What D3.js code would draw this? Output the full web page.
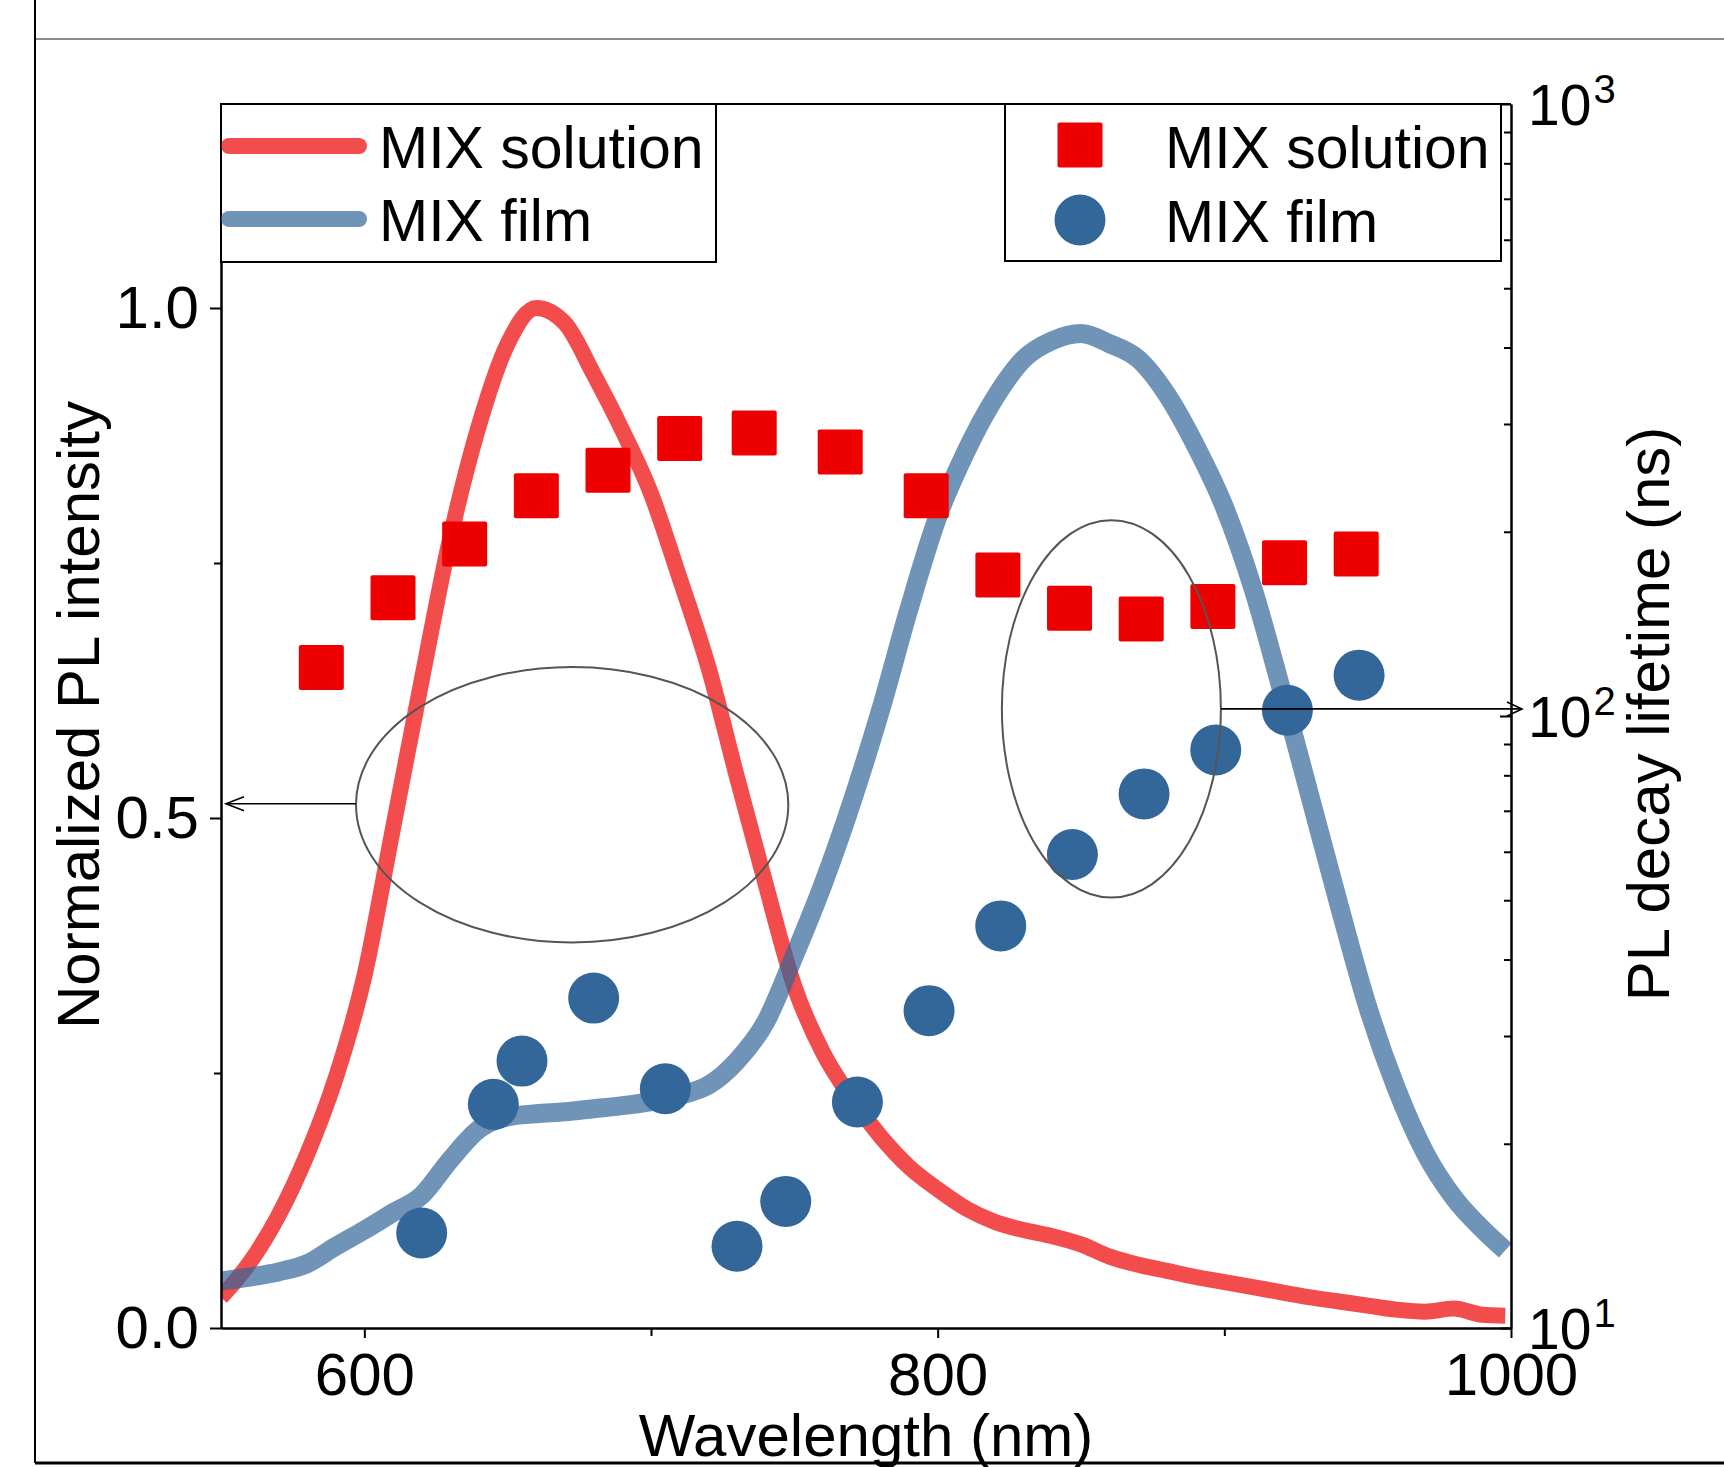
<!DOCTYPE html>
<html>
<head>
<meta charset="utf-8">
<script src="https://cdn.jsdelivr.net/npm/d3@7"></script>
<style>
  body { margin: 0; background: #fff; }
  svg text { font-family: Arial, "Liberation Sans", sans-serif; fill: #000; }
</style>
</head>
<body>
<div id="chart"></div>
<script>
// PL spectra, every 10 nm
var plWavelength = [550, 560, 570, 580, 590, 600, 610, 620, 630, 640, 650, 660, 670, 680, 690, 700, 710, 720, 730, 740,
                    750, 760, 770, 780, 790, 800, 810, 820, 830, 840, 850, 860, 870, 880, 890, 900, 910, 920, 930, 940,
                    950, 960, 970, 980, 990, 998];
var plSolution = [0.030, 0.064, 0.110, 0.170, 0.245, 0.345, 0.490, 0.635, 0.775, 0.885, 0.965, 1.000, 0.985, 0.935, 0.880, 0.818, 0.735, 0.648, 0.540, 0.435,
                  0.335, 0.270, 0.225, 0.188, 0.158, 0.136, 0.117, 0.104, 0.096, 0.090, 0.082, 0.070, 0.062, 0.056, 0.050, 0.045, 0.040, 0.035, 0.030, 0.026,
                  0.022, 0.018, 0.016, 0.019, 0.013, 0.012];
var plFilm = [0.046, 0.050, 0.055, 0.063, 0.080, 0.096, 0.113, 0.130, 0.165, 0.195, 0.207, 0.210, 0.212, 0.215, 0.218, 0.222, 0.228, 0.238, 0.262, 0.300,
              0.365, 0.435, 0.515, 0.605, 0.705, 0.795, 0.860, 0.912, 0.950, 0.968, 0.975, 0.965, 0.950, 0.915, 0.865, 0.805, 0.725, 0.625, 0.520, 0.415,
              0.315, 0.235, 0.172, 0.128, 0.097, 0.076];

// PL decay lifetime (ns) against emission wavelength
var solutionWl = [585, 610, 635, 660, 685, 710, 736, 766, 796, 821, 846, 871, 896, 921, 946];
var solutionTau = [120, 156, 191, 229, 252, 284, 290, 270, 229, 170, 150, 144, 151, 178, 184];
var filmWl = [620, 645, 655, 680, 705, 730, 747, 772, 797, 822, 847, 872, 897, 922, 947];
var filmTau = [14.3, 23.2, 27.3, 34.6, 24.6, 13.6, 16.1, 23.4, 33.0, 45.4, 59.4, 74.6, 88.0, 102.2, 116.6];

var xTicks = [600, 800, 1000];
var xMinorTicks = [700, 900];
var yTicks = [0, 0.5, 1.0];
var yMinorTicks = [0.25, 0.75];
var tauTicks = [10, 100, 1000];
var tauMinorTicks = [20, 30, 40, 50, 60, 70, 80, 90, 200, 300, 400, 500, 600, 700, 800, 900];

var width = 1724, height = 1467;
var plotL = 221, plotR = 1511, plotT = 104, plotB = 1328;

var lineRed = "#ee0000", lineBlue = "#336699";

var x = d3.scaleLinear().domain([550, 1000]).range([plotL, plotR]);
var y = d3.scaleLinear().domain([0, 1.2]).range([plotB, plotT]);
var yTau = d3.scaleLog().domain([10, 1000]).range([plotB, plotT]);

var svg = d3.select("#chart").append("svg")
    .attr("width", width)
    .attr("height", height);

svg.append("rect").attr("width", width).attr("height", height).attr("fill", "#fff");

svg.append("clipPath").attr("id", "plot")
  .append("rect")
    .attr("x", plotL).attr("y", plotT)
    .attr("width", plotR - plotL).attr("height", plotB - plotT);

// spectra
var spectrum = function (vals) {
  return d3.line()
      .x(function (d, i) { return x(plWavelength[i]); })
      .y(function (d) { return y(d); })
      .curve(d3.curveMonotoneX)(vals);
};

var curves = svg.append("g").attr("clip-path", "url(#plot)");
curves.append("path")
    .attr("d", spectrum(plSolution))
    .attr("fill", "none")
    .attr("stroke", lineRed)
    .attr("stroke-opacity", 0.7)
    .attr("stroke-width", 16)
    .attr("stroke-linejoin", "round");
curves.append("path")
    .attr("d", spectrum(plFilm))
    .attr("fill", "none")
    .attr("stroke", lineBlue)
    .attr("stroke-opacity", 0.7)
    .attr("stroke-width", 19)
    .attr("stroke-linejoin", "round");

// lifetimes
var sq = 45;
svg.append("g").selectAll("rect")
    .data(solutionWl)
    .enter().append("rect")
    .attr("x", function (d) { return x(d) - sq / 2; })
    .attr("y", function (d, i) { return yTau(solutionTau[i]) - sq / 2; })
    .attr("width", sq).attr("height", sq)
    .attr("rx", 2)
    .attr("fill", lineRed);

svg.append("g").selectAll("circle")
    .data(filmWl)
    .enter().append("circle")
    .attr("cx", function (d) { return x(d); })
    .attr("cy", function (d, i) { return yTau(filmTau[i]); })
    .attr("r", 25.5)
    .attr("fill", lineBlue);

// ellipses with arrows pointing at their axes
var ell = svg.append("g").attr("fill", "none").attr("stroke", "#555").attr("stroke-width", 2);
var e1 = { cx: x(672.5), cy: y(0.513), rx: x(672.5) - x(597.1), ry: y(0) - y(0.135) };
var e2 = { cx: x(860.6), cy: y(0.607), rx: x(860.6) - x(822.4), ry: y(0) - y(0.185) };
[e1, e2].forEach(function (e) {
  ell.append("ellipse").attr("cx", e.cx).attr("cy", e.cy).attr("rx", e.rx).attr("ry", e.ry);
});

var arr = svg.append("g").attr("fill", "none").attr("stroke", "#000").attr("stroke-width", 1.6);
var ay1 = y(0.514), tip1 = plotL + 5;
arr.append("line").attr("x1", e1.cx - e1.rx).attr("x2", tip1).attr("y1", ay1).attr("y2", ay1);
arr.append("path").attr("d", "M" + (tip1 + 18) + "," + (ay1 - 7) + "L" + tip1 + "," + ay1 + "L" + (tip1 + 18) + "," + (ay1 + 7));
var ay2 = yTau(102.7), tip2 = plotR + 11;
arr.append("line").attr("x1", e2.cx + e2.rx).attr("x2", tip2).attr("y1", ay2).attr("y2", ay2);
arr.append("path").attr("d", "M" + (tip2 - 15) + "," + (ay2 - 7) + "L" + tip2 + "," + ay2 + "L" + (tip2 - 15) + "," + (ay2 + 7));

// axes
var styleAxis = function (g) {
  g.selectAll("path, line").attr("stroke", "#000").attr("stroke-width", 2);
  g.selectAll("text").attr("font-size", 60).attr("fill", "#000")
      .attr("font-family", "Arial, 'Liberation Sans', sans-serif");
};

svg.append("g")
    .attr("transform", "translate(0," + plotB + ")")
    .call(d3.axisBottom(x).tickValues(xTicks).tickSize(10).tickSizeOuter(0).tickPadding(14).tickFormat(d3.format("d")))
    .call(styleAxis);
svg.append("g")
    .attr("transform", "translate(0," + plotB + ")")
    .call(d3.axisBottom(x).tickValues(xMinorTicks).tickSize(8).tickSizeOuter(0).tickFormat(""))
    .call(styleAxis);

svg.append("g")
    .attr("transform", "translate(" + plotL + ",0)")
    .call(d3.axisLeft(y).tickValues(yTicks).tickSize(11).tickSizeOuter(0).tickPadding(11).tickFormat(d3.format(".1f")))
    .call(styleAxis);
svg.append("g")
    .attr("transform", "translate(" + plotL + ",0)")
    .call(d3.axisLeft(y).tickValues(yMinorTicks).tickSize(7).tickSizeOuter(0).tickFormat(""))
    .call(styleAxis);

var tauAxis = svg.append("g")
    .attr("transform", "translate(" + plotR + ",0)")
    .call(d3.axisRight(yTau).tickValues(tauTicks).tickSize(-11).tickSizeOuter(0).tickPadding(17))
    .call(styleAxis);
tauAxis.selectAll(".tick text").each(function (d) {
  var t = d3.select(this).text("").attr("dy", "0.36em").attr("font-size", 57);
  t.append("tspan").text("10");
  t.append("tspan").text(Math.round(Math.log10(d))).attr("font-size", 40).attr("dy", "-0.55em").attr("dx", 2);
});
svg.append("g")
    .attr("transform", "translate(" + plotR + ",0)")
    .call(d3.axisRight(yTau).tickValues(tauMinorTicks).tickSize(-7).tickSizeOuter(0).tickFormat(""))
    .call(styleAxis);

svg.append("line")
    .attr("x1", plotL).attr("x2", plotR).attr("y1", plotT).attr("y2", plotT)
    .attr("stroke", "#000").attr("stroke-width", 2);

// axis titles
svg.append("text")
    .attr("transform", "translate(99,715) rotate(-90)")
    .attr("text-anchor", "middle").attr("font-size", 60)
    .text("Normalized PL intensity");
svg.append("text")
    .attr("transform", "translate(1669,714) rotate(-90)")
    .attr("text-anchor", "middle").attr("font-size", 60)
    .text("PL decay lifetime (ns)");
svg.append("text")
    .attr("x", (plotL + plotR) / 2).attr("y", 1456)
    .attr("text-anchor", "middle").attr("font-size", 60)
    .text("Wavelength (nm)");

// legends
var lineLegend = svg.append("g");
lineLegend.append("rect")
    .attr("x", plotL).attr("y", plotT).attr("width", 716 - plotL).attr("height", 262 - plotT)
    .attr("fill", "#fff").attr("stroke", "#000").attr("stroke-width", 2);
[["MIX solution", lineRed, 146], ["MIX film", lineBlue, 219]].forEach(function (d) {
  lineLegend.append("line")
      .attr("x1", 229).attr("x2", 359).attr("y1", d[2]).attr("y2", d[2])
      .attr("stroke", d[1]).attr("stroke-opacity", 0.7).attr("stroke-width", 16).attr("stroke-linecap", "round");
  lineLegend.append("text")
      .attr("x", 379).attr("y", d[2] + 22).attr("font-size", 59)
      .text(d[0]);
});

var dotLegend = svg.append("g");
dotLegend.append("rect")
    .attr("x", 1005).attr("y", plotT).attr("width", 1501 - 1005).attr("height", 261 - plotT)
    .attr("fill", "#fff").attr("stroke", "#000").attr("stroke-width", 2);
dotLegend.append("rect")
    .attr("x", 1080 - sq / 2).attr("y", 145 - sq / 2).attr("width", sq).attr("height", sq)
    .attr("rx", 2).attr("fill", lineRed);
dotLegend.append("circle").attr("cx", 1080).attr("cy", 220).attr("r", 25.5).attr("fill", lineBlue);
dotLegend.append("text").attr("x", 1165).attr("y", 168).attr("font-size", 59).text("MIX solution");
dotLegend.append("text").attr("x", 1165).attr("y", 242).attr("font-size", 59).text("MIX film");

// page frame around the figure
svg.append("line").attr("x1", 35).attr("x2", width).attr("y1", 39).attr("y2", 39)
    .attr("stroke", "#8c8c8c").attr("stroke-width", 2);
svg.append("line").attr("x1", 35).attr("x2", 35).attr("y1", 0).attr("y2", 1463)
    .attr("stroke", "#000").attr("stroke-width", 2);
svg.append("line").attr("x1", 35).attr("x2", width).attr("y1", 1463).attr("y2", 1463)
    .attr("stroke", "#000").attr("stroke-width", 3);
</script>
</body>
</html>
